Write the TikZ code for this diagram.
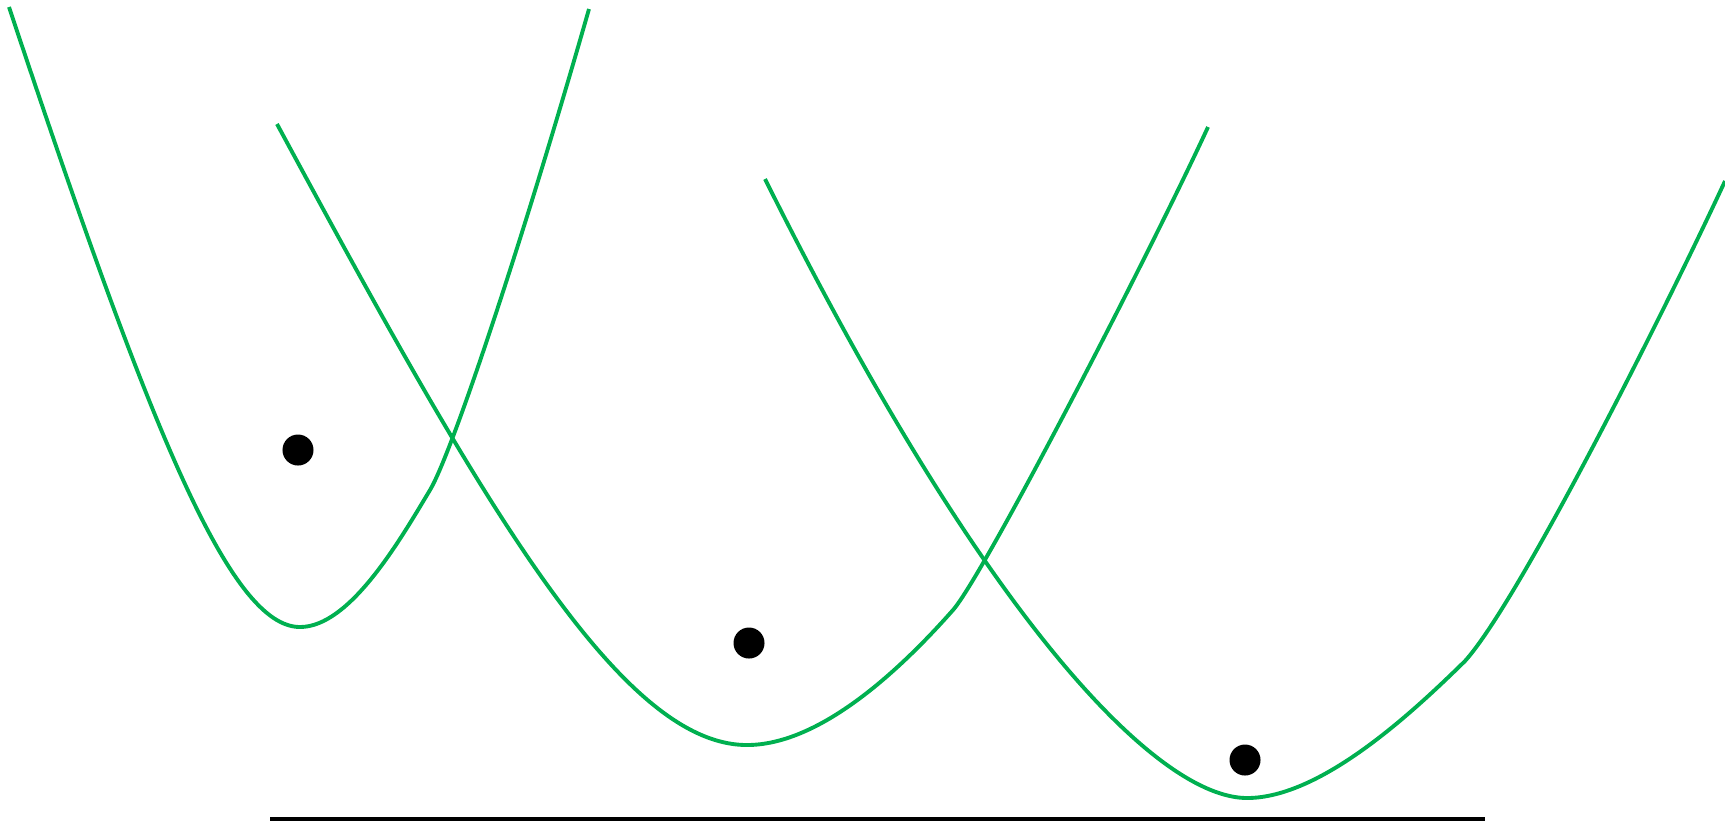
\documentclass[tikz,border=0pt]{standalone}
\usepackage{tikz}

\definecolor{wellgreen}{HTML}{00B050}
\tikzset{
    well/.style={draw=wellgreen, line width=1.1pt},
    ball/.style={circle, fill=black, inner sep=0pt, minimum size=0.31cm},
    ground/.style={draw=black, line width=1.4pt},
}

\begin{document}
\begin{tikzpicture}[x=0.01cm, y=-0.01cm]

    \useasboundingbox (0,0) rectangle (1725,823);

    % first well
    \draw[well] (9,7) .. controls (150,430) and (230,627) .. (300,627)
        .. controls (350,627) and (400,540) .. (430,490)
        .. controls (451,455) and (520,250) .. (589,9);

    % second well
    \draw[well] (277,124) .. controls (480,500) and (620,745) .. (747,745)
        .. controls (820,745) and (900,670) .. (953,610)
        .. controls (983,576) and (1148,257) .. (1208,127);

    % third well
    \draw[well] (765,179) .. controls (990,630) and (1160,798) .. (1247,798)
        .. controls (1320,798) and (1410,715) .. (1465,661)
        .. controls (1520,600) and (1670,300) .. (1725,181);

    % balls
    \foreach \p [count=\i] in {(298,450), (749,643), (1245,760)}
        \node[ball] (ball\i) at \p {};

    % floor
    \draw[ground] (270,819) -- (1485,819);

\end{tikzpicture}
\end{document}
